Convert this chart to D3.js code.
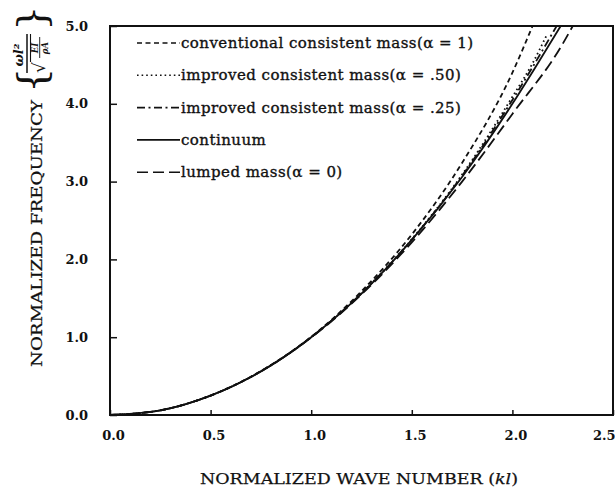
<!DOCTYPE html>
<html><head><meta charset="utf-8">
<script src="https://cdn.jsdelivr.net/npm/d3@7"></script>
<style>body{margin:0;background:#fff}svg{display:block}</style>
</head><body>
<svg id="chart" width="615" height="490"></svg>
<script>
// ---- data ----
const xTicks = [0.0, 0.5, 1.0, 1.5, 2.0, 2.5];
const yTicks = [0.0, 1.0, 2.0, 3.0, 4.0, 5.0];

const continuumX = [0, 0.25, 0.5, 0.75, 1.0, 1.25, 1.5, 1.75, 2.0, 2.1, 2.24];
const continuumY = [0, 0.06, 0.25, 0.56, 1.0, 1.56, 2.25, 3.06, 4.0, 4.41, 5.0];

const conventionalX = [0, 0.25, 0.5, 0.75, 1.0, 1.25, 1.5, 1.75, 2.0, 2.1];
const conventionalY = [0, 0.06, 0.25, 0.565, 1.005, 1.59, 2.32, 3.24, 4.4, 5.0];

const improved50X = [0, 0.25, 0.5, 0.75, 1.0, 1.25, 1.5, 1.75, 2.0, 2.1, 2.17];
const improved50Y = [0, 0.06, 0.25, 0.563, 1.0, 1.565, 2.26, 3.09, 4.09, 4.52, 4.88];

const improved25X = [0, 0.25, 0.5, 0.75, 1.0, 1.25, 1.5, 1.75, 2.0, 2.1, 2.22];
const improved25Y = [0, 0.06, 0.25, 0.562, 1.0, 1.563, 2.255, 3.075, 4.05, 4.47, 5.0];

const lumpedX = [0, 0.25, 0.5, 0.75, 1.0, 1.25, 1.5, 1.75, 2.0, 2.25, 2.3];
const lumpedY = [0, 0.06, 0.25, 0.56, 0.995, 1.55, 2.22, 3.0, 3.87, 4.77, 5.0];

const legendLabels = [
  "conventional consistent mass(\u03b1 = 1)",
  "improved consistent mass(\u03b1 = .50)",
  "improved consistent mass(\u03b1 = .25)",
  "continuum",
  "lumped mass(\u03b1 = 0)"
];

// ---- layout ----
const svg = d3.select("#chart");
const L = 110, R = 613, T = 26, B = 415;
const x = d3.scaleLinear().domain([0, 2.5]).range([L, R]);
const y = d3.scaleLinear().domain([0, 5]).range([B, T]);
const ink = "#111";
const serif = "'DejaVu Serif', 'Liberation Serif', serif";

const series = [
  {xs: conventionalX, ys: conventionalY, dash: "5,3.5"},
  {xs: improved50X, ys: improved50Y, dash: "1.6,3"},
  {xs: improved25X, ys: improved25Y, dash: "8,3.5,2,3.5"},
  {xs: continuumX, ys: continuumY, dash: null},
  {xs: lumpedX, ys: lumpedY, dash: "11,5"}
];

// frame
svg.append("rect").attr("x", L).attr("y", T).attr("width", R - L).attr("height", B - T)
  .attr("fill", "none").attr("stroke", ink).attr("stroke-width", 2);

// axes with inward ticks
const xAxis = d3.axisBottom(x).tickValues(xTicks).tickSize(-5).tickFormat(d3.format(".1f")).tickPadding(16);
const gx = svg.append("g").attr("transform", `translate(0,${B})`).call(xAxis);
gx.select(".domain").remove();
gx.selectAll("line").attr("stroke", ink).attr("stroke-width", 1.5);
gx.selectAll("text").attr("font-family", serif).attr("font-weight", "bold").attr("font-size", 13).attr("fill", ink).attr("dx", 3);
gx.selectAll(".tick:last-of-type text").attr("text-anchor", "end").attr("dx", 2);

const yAxis = d3.axisLeft(y).tickValues(yTicks).tickSize(-7).tickFormat(d3.format(".1f")).tickPadding(22);
const gy = svg.append("g").attr("transform", `translate(${L},0)`).call(yAxis);
gy.select(".domain").remove();
gy.selectAll("line").attr("stroke", ink).attr("stroke-width", 1.5);
gy.selectAll("text").attr("font-family", serif).attr("font-weight", "bold").attr("font-size", 13).attr("fill", ink);

// curves
const line = d3.line().x(d => x(d[0])).y(d => y(d[1])).curve(d3.curveMonotoneX);
svg.append("clipPath").attr("id", "clip").append("rect")
  .attr("x", L).attr("y", T).attr("width", R - L).attr("height", B - T);
series.forEach(s => {
  const pts = s.xs.map((v, i) => [v, s.ys[i]]);
  svg.append("path").attr("d", line(pts)).attr("fill", "none").attr("stroke", ink)
    .attr("stroke-width", 1.8).attr("stroke-dasharray", s.dash).attr("clip-path", "url(#clip)");
});

// legend
const legY0 = 43, legStep = 32.3;
legendLabels.forEach((lab, i) => {
  const yy = legY0 + i * legStep;
  svg.append("line").attr("x1", 137).attr("x2", 180).attr("y1", yy).attr("y2", yy)
    .attr("stroke", ink).attr("stroke-width", 1.6).attr("stroke-dasharray", series[i].dash);
  svg.append("text").attr("x", 181).attr("y", yy + 5).attr("font-family", serif)
    .attr("font-size", 15).attr("letter-spacing", 0.45).attr("fill", ink)
    .attr("stroke", ink).attr("stroke-width", 0.35).text(lab);
});

// x title
const xt = svg.append("text").attr("x", 200).attr("y", 484).attr("font-family", serif).attr("font-size", 15)
  .attr("fill", ink).attr("stroke", ink).attr("stroke-width", 0.25)
  .attr("textLength", 318).attr("lengthAdjust", "spacingAndGlyphs");
xt.append("tspan").text("NORMALIZED WAVE NUMBER (");
xt.append("tspan").attr("font-style", "italic").text("kl");
xt.append("tspan").text(")");

// y title (rotated)
const gt = svg.append("g").attr("transform", "translate(42,367) rotate(-90)");
gt.append("text").attr("x", 0).attr("y", 0).attr("font-family", serif).attr("font-size", 15)
  .attr("fill", ink).attr("stroke", ink).attr("stroke-width", 0.25)
  .attr("textLength", 267).attr("lengthAdjust", "spacingAndGlyphs")
  .text("NORMALIZED FREQUENCY");
gt.append("text").attr("x", 274).attr("y", 3).attr("font-family", serif).attr("font-size", 40)
  .attr("fill", ink).text("{");
gt.append("text").attr("x", 336).attr("y", 3).attr("font-family", serif).attr("font-size", 40)
  .attr("fill", ink).text("}");
gt.append("text").attr("x", 312).attr("y", -19).attr("text-anchor", "middle").attr("font-family", serif)
  .attr("font-size", 13).attr("font-style", "italic").attr("font-weight", "bold").attr("fill", ink)
  .text("\u03c9l\u00b2");
gt.append("line").attr("x1", 294).attr("x2", 333).attr("y1", -15).attr("y2", -15)
  .attr("stroke", ink).attr("stroke-width", 1.5);
gt.append("text").attr("x", 294).attr("y", 3).attr("font-family", serif).attr("font-size", 17)
  .attr("fill", ink).text("\u221a");
gt.append("line").attr("x1", 305).attr("x2", 333).attr("y1", -11.5).attr("y2", -11.5)
  .attr("stroke", ink).attr("stroke-width", 1.1);
gt.append("text").attr("x", 319).attr("y", -4).attr("text-anchor", "middle").attr("font-family", serif)
  .attr("font-size", 8.5).attr("font-style", "italic").attr("font-weight", "bold").attr("fill", ink).text("EI");
gt.append("line").attr("x1", 309).attr("x2", 330).attr("y1", -2.3).attr("y2", -2.3)
  .attr("stroke", ink).attr("stroke-width", 0.9);
gt.append("text").attr("x", 319).attr("y", 5.5).attr("text-anchor", "middle").attr("font-family", serif)
  .attr("font-size", 8.5).attr("font-style", "italic").attr("font-weight", "bold").attr("fill", ink).text("\u03c1A");
</script>
</body></html>
